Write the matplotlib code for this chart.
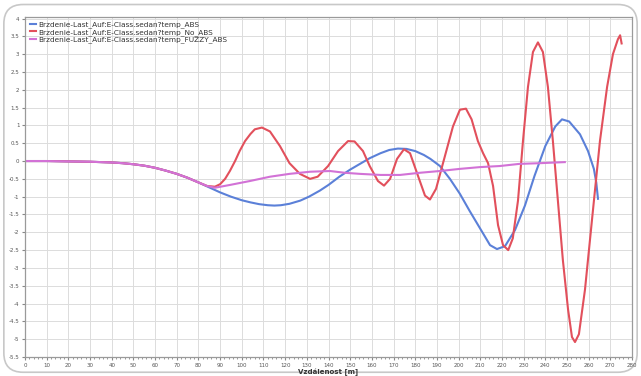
import numpy as np
import matplotlib.pyplot as plt
from matplotlib.patches import FancyBboxPatch

# distance [m] and deceleration values for the three braking runs
x_abs = [0, 10, 20, 30, 40, 45, 50, 55, 60, 65, 70, 75, 80, 85, 90, 95, 100, 104, 108,
         112, 115, 118, 122, 127, 131, 136, 140, 145, 150, 154.5, 159, 164, 168, 172,
         176, 180, 184, 187, 191.4, 196, 200.6, 205, 210, 214.5, 217.7, 221.4, 226,
         230.6, 235, 240, 244.6, 247.7, 251, 256, 259.7, 262.4, 263.5, 264.3]
y_abs = [0, 0, -0.01, -0.02, -0.04, -0.06, -0.09, -0.13, -0.19, -0.27, -0.36, -0.47,
         -0.6, -0.74, -0.88, -1.0, -1.1, -1.16, -1.21, -1.24, -1.25, -1.24, -1.2, -1.11,
         -1.0, -0.83, -0.67, -0.44, -0.24, -0.08, 0.08, 0.22, 0.31, 0.35, 0.34, 0.28,
         0.17, 0.06, -0.14, -0.5, -0.92, -1.39, -1.9, -2.36, -2.47, -2.39, -1.94,
         -1.25, -0.42, 0.42, 0.97, 1.17, 1.11, 0.75, 0.28, -0.22, -0.6, -1.06]

x_noabs = [0, 10, 20, 30, 40, 45, 50, 55, 60, 65, 70, 75, 80, 84, 87.6, 90, 92.3, 94.5,
           96.9, 99, 101.5, 104, 106, 109.3, 113, 117.6, 122, 126.8, 131.5, 135, 139.8,
           144.4, 149, 152, 155.9, 159, 162.8, 165.6, 168.4, 171.6, 174.8, 177.6, 181.3,
           184.5, 186.8, 189.6, 193.7, 197.4, 200.6, 203.4, 206, 208.9, 211.3, 213.6,
           215.9, 218.2, 220.5, 222.9, 225, 227.4, 229.7, 232, 234.3, 236.6, 238.9,
           241.2, 243.5, 245.8, 248.1, 250.5, 252.3, 253.7, 255.5, 258.3, 261.5, 265.2,
           268.5, 271.2, 273.5, 274.5, 275.2]
y_noabs = [0, 0, -0.01, -0.02, -0.04, -0.06, -0.09, -0.13, -0.19, -0.27, -0.36, -0.47,
           -0.6, -0.7, -0.72, -0.65, -0.5, -0.28, 0.0, 0.28, 0.56, 0.76, 0.89, 0.94,
           0.83, 0.42, -0.06, -0.36, -0.5, -0.44, -0.14, 0.28, 0.56, 0.55, 0.28, -0.14,
           -0.56, -0.69, -0.5, 0.06, 0.33, 0.22, -0.42, -0.97, -1.08, -0.78, 0.14, 0.97,
           1.44, 1.47, 1.17, 0.56, 0.22, -0.06, -0.7, -1.8, -2.36, -2.5, -2.17, -1.11,
           0.56, 2.08, 3.06, 3.33, 3.06, 2.08, 0.56, -1.11, -2.78, -4.17, -4.94, -5.08,
           -4.86, -3.61, -1.67, 0.56, 2.08, 3.0, 3.42, 3.53, 3.3]

x_fuzzy = [0, 10, 20, 30, 40, 45, 50, 55, 60, 65, 70, 75, 80, 84, 87.6, 94.6, 103.8,
           113, 122, 131.5, 140.7, 147.6, 154.5, 164, 173, 182, 191.4, 200.6, 209.9,
           219, 228, 237.5, 249]
y_fuzzy = [0, 0, -0.01, -0.02, -0.04, -0.06, -0.09, -0.13, -0.19, -0.27, -0.36, -0.47,
           -0.6, -0.7, -0.75, -0.67, -0.56, -0.44, -0.36, -0.3, -0.28, -0.33, -0.36,
           -0.39, -0.39, -0.33, -0.28, -0.22, -0.17, -0.14, -0.08, -0.06, -0.03]

labels = ['Brzdenie-Last_Auf:E-Class.sedan?temp_ABS',
          'Brzdenie-Last_Auf:E-Class.sedan?temp_No_ABS',
          'Brzdenie-Last_Auf:E-Class.sedan?temp_FUZZY_ABS']
colors = ['#5b80d8', '#e2505c', '#d272d6']

fig = plt.figure(figsize=(6.41, 3.76), dpi=100)

# rounded outer frame
frame = FancyBboxPatch((0.006, 0.01), 0.988, 0.978, boxstyle='round,pad=0,rounding_size=0.03',
                       transform=fig.transFigure, facecolor='none', edgecolor='#c8c8c8',
                       linewidth=1.2, mutation_aspect=641 / 376, zorder=-1)
fig.patches.append(frame)

ax = fig.add_axes([0.039, 0.0505, 0.947, 0.905])
ax.set_facecolor('white')

ax.plot(x_abs, y_abs, color=colors[0], lw=1.5, label=labels[0])
ax.plot(x_noabs, y_noabs, color=colors[1], lw=1.5, label=labels[1])
ax.plot(x_fuzzy, y_fuzzy, color=colors[2], lw=1.5, label=labels[2])

ax.set_xlim(0, 280)
ax.set_ylim(-5.5, 4.05)
ax.set_xticks(np.arange(0, 281, 10))
ax.set_yticks(np.arange(-5.5, 4.01, 0.5))
ax.set_xticks(np.arange(0, 281, 2), minor=True)
ax.set_yticklabels([('%g' % v) for v in np.arange(-5.5, 4.01, 0.5)])
ax.tick_params(axis='both', which='major', labelsize=4, length=2.5, color='#888888',
               labelcolor='#555555', pad=1.5)
ax.tick_params(axis='both', which='minor', length=1.5, color='#888888')
ax.grid(True, which='major', color='#dcdcdc', lw=0.7)
for s in ax.spines.values():
    s.set_color('#9a9a9a')
    s.set_linewidth(0.9)

ax.set_xlabel('Vzdálenost [m]', fontsize=5, fontweight='bold', color='#333333', labelpad=0.5)

leg = ax.legend(loc='upper left', fontsize=5.3, frameon=False, handlelength=0.8,
                handletextpad=0.3, labelspacing=0.05, borderaxespad=0.25)
for t in leg.get_texts():
    t.set_color('#333333')

fig.savefig('out.png', dpi=100)
